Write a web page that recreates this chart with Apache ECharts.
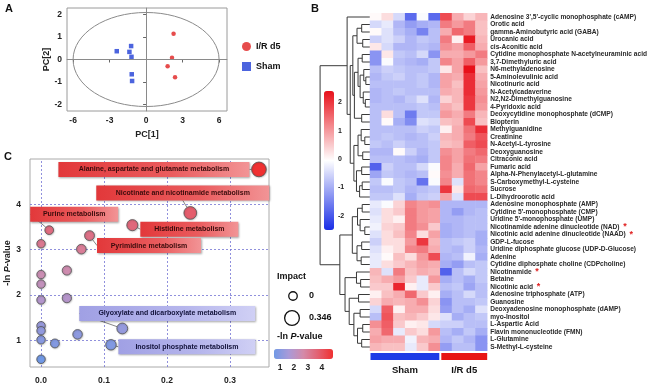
<!DOCTYPE html>
<html><head><meta charset="utf-8">
<script src="https://cdn.jsdelivr.net/npm/echarts@6/dist/echarts.min.js"></script>
<style>html,body{margin:0;padding:0;background:#fff}#c{width:650px;height:389px}</style>
</head><body><div id="c"></div>
<script>
// ---------------- Panel A : PCA scores ----------------
const irPC1 = [2.26, 2.13, 1.77, 2.38];
const irPC2 = [1.15, 0.08, -0.30, -0.79];
const shamPC1 = [-2.41, -1.23, -1.37, -1.20, -1.18, -1.15];
const shamPC2 = [0.37, 0.60, 0.34, 0.12, -0.66, -0.96];
const ellipseRadii = [6.0, 2.1];
const pcaXTicks = [-6, -3, 0, 3, 6];
const pcaYTicks = [-2, -1, 0, 1, 2];

// ---------------- Panel B : heatmap ----------------
const metabolites = [
 "Adenosine 3',5'-cyclic monophosphate (cAMP)","Orotic acid","gamma-Aminobutyric acid (GABA)","Urocanic acid","cis-Aconitic acid",
 "Cytidine monophosphate N-acetylneuraminic acid","3,7-Dimethyluric acid","N6-methyladenosine","5-Aminolevulinic acid","Nicotinuric acid",
 "N-Acetylcadaverine","N2,N2-Dimethylguanosine","4-Pyridoxic acid","Deoxycytidine monophosphate (dCMP)","Biopterin",
 "Methylguanidine","Creatinine","N-Acetyl-L-tyrosine","Deoxyguanosine","Citraconic acid",
 "Fumaric acid","Alpha-N-Phenylacetyl-L-glutamine","S-Carboxymethyl-L-cysteine","Sucrose","L-Dihydroorotic acid",
 "Adenosine monophosphate (AMP)","Cytidine 5'-monophosphate (CMP)","Uridine 5'-monophosphate (UMP)","Nicotinamide adenine dinucleotide (NAD)","Nicotinic acid adenine dinucleotide (NAAD)",
 "GDP-L-fucose","Uridine diphosphate glucose (UDP-D-Glucose)","Adenine","Cytidine diphosphate choline (CDPcholine)","Nicotinamide",
 "Betaine","Nicotinic acid","Adenosine triphosphate (ATP)","Guanosine","Deoxyadenosine monophosphate (dAMP)",
 "myo-Inositol","L-Aspartic Acid","Flavin mononucleotide (FMN)","L-Glutamine","S-Methyl-L-cysteine"];
const starred = ["Nicotinamide adenine dinucleotide (NAD)","Nicotinic acid adenine dinucleotide (NAAD)","Nicotinamide","Nicotinic acid"];
const groups = ['Sham', 'I/R d5'];
const groupSizes = [6, 4];
const zScores = [
 [0.0,0.3,-0.5,-1.8,-0.1,-1.8, 1.8,0.8,0.4,0.7],
 [-0.5,-0.3,-0.9,-1.2,-1.0,-0.9, 1.3,1.0,1.3,0.6],
 [0.0,-0.4,-0.8,-1.0,-1.5,-0.8, 0.8,1.5,1.3,0.6],
 [-0.6,-0.4,-0.6,-0.9,-0.7,-0.8, 1.3,0.1,2.3,0.7],
 [0.2,-0.5,-0.9,-0.9,-0.8,-0.9, 1.1,0.9,1.6,0.8],
 [-1.3,0.2,-0.7,-0.8,-0.5,-1.3, 0.8,0.8,1.0,1.3],
 [-1.3,-0.1,-0.8,-0.9,-1.0,-0.7, 1.2,0.9,1.6,1.0],
 [-0.8,-0.6,-0.7,-0.8,-0.8,-0.7, 0.2,0.9,2.4,0.6],
 [-0.9,-0.7,-0.6,-0.8,-0.7,-0.9, 0.9,0.8,2.1,0.8],
 [-0.8,-0.8,-0.8,-0.8,-0.7,-0.9, 0.9,0.6,2.1,0.9],
 [-0.9,-0.8,-0.7,-0.8,-0.8,-0.8, 0.8,0.7,2.1,1.0],
 [-0.9,-0.8,-0.9,-0.7,-0.4,-0.9, 0.4,0.7,2.0,1.1],
 [-0.8,-0.8,-0.8,-0.8,-0.7,-0.8, 0.8,0.6,2.0,1.0],
 [-0.8,0.3,-0.8,-1.6,-0.7,-0.7, 1.0,0.8,1.3,0.7],
 [-0.8,0.0,-1.0,-1.4,-0.4,-0.5, 0.6,0.7,1.8,0.6],
 [-0.8,-0.8,-0.8,-0.8,-0.6,-0.7, 0.1,0.8,1.4,2.1],
 [-0.8,-0.7,-0.8,-0.9,-0.8,-0.6, 0.7,0.8,1.3,1.7],
 [-0.7,-0.8,-0.6,-0.8,-0.8,-0.7, 0.6,0.7,1.6,1.8],
 [-0.9,-0.9,0.0,-0.6,-0.9,-0.7, 1.1,0.9,1.3,1.5],
 [-0.8,-0.8,-0.8,-0.9,-1.0,-0.7, 1.2,0.9,1.4,1.3],
 [-1.9,-0.6,-0.8,-0.8,-0.5,-0.1, 1.2,0.8,1.5,0.9],
 [-1.1,-0.7,-0.8,-0.9,-0.8,0.0, 1.1,0.8,1.4,1.2],
 [-0.7,-0.1,-0.7,-0.8,-1.7,-0.1, 1.2,-0.4,1.4,1.2],
 [-0.8,-0.8,-0.7,-0.9,-0.8,-0.7, 2.0,0.2,1.5,1.4],
 [-0.7,-0.7,-0.4,-1.0,-0.7,-0.6, 0.9,-0.4,1.8,1.8],
 [-0.3,-0.1,0.4,1.2,1.0,1.1, -0.9,-0.9,-0.9,-0.9],
 [-0.4,0.3,0.5,1.3,1.0,0.9, -0.9,-1.2,-0.9,-0.8],
 [-0.3,0.3,0.1,1.3,1.0,0.9, -0.9,-0.9,-0.8,-0.8],
 [-0.2,0.4,0.5,1.3,1.1,0.5, -1.0,-0.9,-0.8,-0.8],
 [-0.4,0.3,0.6,1.2,0.3,0.9, -1.0,-0.9,-0.8,-1.0],
 [-0.6,0.3,0.3,1.0,2.0,0.7, -0.8,-0.7,-0.6,-1.0],
 [-0.4,0.1,0.3,1.2,1.3,0.8, -0.8,-0.9,-0.6,-0.9],
 [-0.3,0.0,0.6,0.3,1.0,1.8, -0.9,-0.8,-0.2,-1.0],
 [-0.3,0.3,0.5,0.7,0.9,0.8, -1.0,-1.2,-0.8,-0.7],
 [0.7,-0.4,1.3,0.6,0.8,0.7, -1.9,-0.8,-0.5,-0.7],
 [0.6,0.8,1.0,0.5,-0.3,1.0, -1.0,-0.8,-1.0,-0.7],
 [0.5,0.5,2.2,0.1,-0.3,0.5, -0.8,-0.7,-1.1,-0.8],
 [0.1,0.6,0.8,1.5,0.5,0.1, -1.0,-0.8,-0.5,-0.8],
 [0.4,0.8,0.7,0.8,1.1,0.4, -1.3,-0.8,-0.8,-0.7],
 [-0.5,1.6,0.1,0.8,0.8,0.3, -1.2,-0.8,-1.0,-0.4],
 [-0.8,1.7,0.6,0.7,0.5,0.2, -0.4,-1.0,-0.8,-0.7],
 [1.1,1.6,0.5,0.1,0.2,-0.5, -0.6,-0.6,-0.8,-0.8],
 [0.8,1.5,-0.3,0.5,0.3,1.0, -0.8,-1.0,-0.7,-1.0],
 [0.9,0.8,0.8,-0.2,0.7,0.8, -0.9,-0.7,-0.9,-1.3],
 [0.7,0.6,0.6,-0.3,0.5,1.1, -1.2,-0.8,-0.8,-1.3]];
// hierarchical clustering of rows: [mergeHeight, left, right], leaves = row index
const rowTree = [9.6,
 [4.4, 0, [3.8,
   [3.3, [2.5, [1.6, 1, 2], [1.4, 3, 4]],
         [3.0, [2.3, [1.5, 5, 6], [1.9, [1.2, 7, [0.8, 8, 9]], [1.3, 10, [0.9, 11, 12]]]], [1.6, 13, 14]]],
   [3.1, [2.3, [1.7, 15, [1.0, 16, 17]], [1.4, 18, 19]],
         [2.6, [1.6, 20, 21], [2.0, [1.5, 22, 23], 24]]]]],
 [5.8, [3.4, [2.4, [1.5, 25, 26], [1.9, 27, [1.0, 28, 29]]], [2.5, [1.6, 30, 31], [1.7, 32, 33]]],
       [4.8, [2.6, 34, [1.8, 35, 36]], [4.0, [2.2, 37, 38], [3.1, [1.9, 39, 40], [2.4, [1.4, 41, 42], [1.6, 43, 44]]]]]]];
const heatTicks = [-2, -1, 0, 1, 2];

// ---------------- Panel C : pathway analysis ----------------
const impact = [0.346, 0.237, 0.145, 0.013, 0.077, 0.064, 0.0, 0.041, 0.0, 0.0, 0.041, 0.0, 0.129, 0.058, 0.0, 0.0, 0.0, 0.022, 0.111, 0.0];
const negLnP = [4.77, 3.81, 3.54, 3.43, 3.31, 3.01, 3.13, 2.54, 2.45, 2.24, 1.93, 1.89, 1.26, 1.13, 1.32, 1.21, 1.01, 0.93, 0.90, 0.58];
const pathwayNames = ['Alanine, aspartate and glutamate metabolism','Nicotinate and nicotinamide metabolism','Histidine metabolism',
 'Purine metabolism','Pyrimidine metabolism','','','','','','','','Glyoxylate and dicarboxylate metabolism','','','','','','Inositol phosphate metabolism',''];
const impactTicks = [0, 0.1, 0.2, 0.3];
const lnPTicks = [1, 2, 3, 4];
const impactLegend = [0, 0.346];
const colorTicksC = [1, 2, 3, 4];

// ================= build =================
const FONT = 'Liberation Sans, Arial, sans-serif';
const chart = echarts.init(document.getElementById('c'), null, {renderer: 'canvas'});

// dendrogram segments from tree
const segs = [];
function walk(n) {
  if (typeof n === 'number') return {h: 0, y: n};
  const a = walk(n[1]), b = walk(n[2]);
  const h = n[0];
  segs.push([h, a.y, h, b.y]);
  segs.push([h, a.y, a.h, a.y]);
  segs.push([h, b.y, b.h, b.y]);
  return {h: h, y: (a.y + b.y) / 2};
}
walk(rowTree);

const colNames = [];
groups.forEach((g, gi) => { for (let i = 0; i < groupSizes[gi]; i++) colNames.push(g + ' ' + (i + 1)); });
const heatData = [];
zScores.forEach((row, r) => row.forEach((v, c) => heatData.push([c, r, v])));
const groupRanges = [];
let acc = 0;
groupSizes.forEach((n, gi) => { groupRanges.push([acc, acc + n - 1, gi]); acc += n; });

const sizeFn = v => 8.5 + 18 * v;
const bubbleSize = d => sizeFn(d[0]);

const labelCfg = {
  0: {dx: -105, dy: 0, w: 191, red: true},
  1: {dx: -7.5, dy: -20, w: 173, red: true},
  2: {dx: 57, dy: 4, w: 98, red: true},
  3: {dx: 25, dy: -16, w: 88, red: true},
  4: {dx: 59.5, dy: 10, w: 104, red: true},
  12: {dx: 45, dy: -15, w: 176, red: false},
  18: {dx: 76, dy: 2, w: 137, red: false}
};
const redGrad = new echarts.graphic.LinearGradient(0, 0, 1, 0, [{offset: 0, color: '#e2383a'}, {offset: 0.6, color: '#ea5c5e'}, {offset: 1, color: '#f29496'}]);
const blueGrad = new echarts.graphic.LinearGradient(0, 0, 1, 0, [{offset: 0, color: '#a0a0e4'}, {offset: 0.6, color: '#b6b6ec'}, {offset: 1, color: '#d0d0f5'}]);
const bubbleData = impact.map((x, i) => {
  const item = {value: [x, negLnP[i]]};
  const cfg = labelCfg[i];
  if (cfg && pathwayNames[i]) {
    item.label = {
      show: true, position: 'inside', formatter: pathwayNames[i],
      width: cfg.w - 8, align: 'center', overflow: 'none',
      padding: [3, 4], lineHeight: 9,
      fontFamily: FONT, fontSize: 7, fontWeight: 'bold',
      color: cfg.red ? '#3a0c0c' : '#12123a',
      backgroundColor: cfg.red ? redGrad : blueGrad,
      shadowColor: 'rgba(0,0,0,0.35)', shadowBlur: 2, shadowOffsetX: 1, shadowOffsetY: 1
    };
    item.labelLine = {show: true, lineStyle: {color: '#777', width: 0.9}};
  }
  return item;
});

const axisLbl = {fontFamily: FONT, fontSize: 8.5, fontWeight: 'bold', color: '#222'};

const option = {
  animation: false,
  textStyle: {fontFamily: FONT},
  grid: [
    {left: 67, top: 8, width: 160, height: 103, show: true, borderColor: '#9a9a9a', borderWidth: 1, backgroundColor: 'transparent'},
    {left: 318, top: 13.25, width: 52, height: 337.5},
    {left: 370, top: 13.25, width: 119, height: 337.5},
    {left: 324, top: 91, width: 10, height: 139},
    {left: 30, top: 159, width: 239, height: 208, show: true, borderColor: '#aaaaaa', borderWidth: 1},
    {left: 274, top: 349, width: 59, height: 10}
  ],
  xAxis: [
    {gridIndex: 0, type: 'value', min: -6.5, max: 6.65, splitLine: {show: false},
     axisLine: {lineStyle: {color: '#9a9a9a'}}, axisTick: {show: true, length: 3, customValues: pcaXTicks, lineStyle: {color: '#666'}},
     axisLabel: Object.assign({customValues: pcaXTicks, margin: 5}, axisLbl),
     name: 'PC[1]', nameLocation: 'middle', nameGap: 19, nameTextStyle: {fontFamily: FONT, fontSize: 9, fontWeight: 'bold', color: '#222'}},
    {gridIndex: 1, type: 'value', min: 0, max: 10, inverse: true, show: false},
    {gridIndex: 2, type: 'category', data: colNames, show: false},
    {gridIndex: 3, type: 'value', show: false},
    {gridIndex: 4, type: 'value', min: -0.0175, max: 0.362, splitLine: {show: false},
     axisLine: {show: false}, axisTick: {show: false},
     axisLabel: Object.assign({customValues: impactTicks, margin: 9, formatter: v => v.toFixed(1)}, axisLbl)},
    {gridIndex: 5, type: 'value', min: 0.57, max: 4.8, splitLine: {show: false}, axisLine: {show: false}, axisTick: {show: false},
     axisLabel: Object.assign({customValues: colorTicksC, margin: 4}, axisLbl)}
  ],
  yAxis: [
    {gridIndex: 0, type: 'value', min: -2.3, max: 2.3, splitLine: {show: false},
     axisLine: {lineStyle: {color: '#9a9a9a'}}, axisTick: {show: true, length: 3, customValues: pcaYTicks, lineStyle: {color: '#666'}},
     axisLabel: Object.assign({customValues: pcaYTicks, margin: 5}, axisLbl),
     name: 'PC[2]', nameLocation: 'middle', nameGap: 15, nameTextStyle: {fontFamily: FONT, fontSize: 9, fontWeight: 'bold', color: '#222'}},
    {gridIndex: 1, type: 'value', min: -0.5, max: metabolites.length - 0.5, inverse: true, show: false},
    {gridIndex: 2, type: 'category', data: metabolites, inverse: true, position: 'right',
     axisLine: {show: false}, axisTick: {show: false},
     axisLabel: {interval: 0, margin: 3, fontFamily: FONT, fontSize: 6.6, fontWeight: 'bold', color: '#2a2a2a',
       formatter: v => starred.indexOf(v) >= 0 ? v + '  {s|*}' : v,
       rich: {s: {color: '#e02020', fontSize: 9, fontWeight: 'bold', fontFamily: FONT, verticalAlign: 'middle'}}}},
    {gridIndex: 3, type: 'value', min: -2.5, max: 2.4, position: 'right', splitLine: {show: false},
     axisLine: {show: false}, axisTick: {show: false},
     axisLabel: {customValues: heatTicks, margin: 4, fontFamily: FONT, fontSize: 7, fontWeight: 'bold', color: '#222'}},
    {gridIndex: 4, type: 'value', min: 0.41, max: 5.0, splitLine: {show: false},
     axisLine: {show: false}, axisTick: {show: false},
     axisLabel: Object.assign({customValues: lnPTicks, margin: 9}, axisLbl),
     name: '-ln {i|P}-value', nameLocation: 'middle', nameGap: 18,
     nameTextStyle: {fontFamily: FONT, fontSize: 9, fontWeight: 'bold', color: '#222',
       rich: {i: {fontFamily: FONT, fontSize: 9, fontWeight: 'bold', fontStyle: 'italic', color: '#222'}}}},
    {gridIndex: 5, type: 'value', show: false}
  ],
  legend: {
    data: [{name: 'I/R d5', icon: 'circle'}, {name: 'Sham', icon: 'rect'}],
    orient: 'vertical', left: 242, top: 42, padding: 0, itemWidth: 9, itemHeight: 9, itemGap: 11,
    textStyle: {fontFamily: FONT, fontSize: 9, fontWeight: 'bold', color: '#111'}
  },
  visualMap: [
    {type: 'continuous', seriesIndex: 4, min: -2.5, max: 2.4, calculable: false, hoverLink: false,
     orient: 'vertical', left: 324, top: 91, itemWidth: 10, itemHeight: 139, padding: 0,
     inRange: {color: ['#1a2ee6', '#ffffff', '#e8101a']}},
    {type: 'continuous', seriesIndex: 6, dimension: 1, min: 0.57, max: 4.8, calculable: false, hoverLink: false,
     orient: 'horizontal', left: 274, top: 349, itemWidth: 10, itemHeight: 59, padding: 0,
     inRange: {color: ['#7099e6', '#a99ad8', '#d48aa8', '#e36070', '#f03030']}}
  ],
  graphic: [
    {type: 'text', left: 5, top: 3, style: {text: 'A', fontFamily: FONT, fontSize: 11, fontWeight: 'bold', fill: '#111'}},
    {type: 'text', left: 311, top: 3, style: {text: 'B', fontFamily: FONT, fontSize: 11, fontWeight: 'bold', fill: '#111'}},
    {type: 'text', left: 4, top: 151, style: {text: 'C', fontFamily: FONT, fontSize: 11, fontWeight: 'bold', fill: '#111'}},
    {type: 'text', x: 277, y: 277, style: {text: 'Impact', fontFamily: FONT, fontSize: 9, fontWeight: 'bold', fill: '#111', verticalAlign: 'middle'}},
    {type: 'circle', shape: {cx: 293, cy: 296, r: sizeFn(impactLegend[0]) / 2}, style: {fill: '#fff', stroke: '#111', lineWidth: 1.3}},
    {type: 'text', x: 309, y: 296, style: {text: String(impactLegend[0]), fontFamily: FONT, fontSize: 9, fontWeight: 'bold', fill: '#111', verticalAlign: 'middle'}},
    {type: 'circle', shape: {cx: 292, cy: 318, r: sizeFn(impactLegend[1]) / 2}, style: {fill: '#fff', stroke: '#111', lineWidth: 1.3}},
    {type: 'text', x: 309, y: 318, style: {text: String(impactLegend[1]), fontFamily: FONT, fontSize: 9, fontWeight: 'bold', fill: '#111', verticalAlign: 'middle'}},
    {type: 'text', x: 277, y: 337, style: {text: '-ln {i|P}-value', fontFamily: FONT, fontSize: 9, fontWeight: 'bold', fill: '#111', verticalAlign: 'middle',
      rich: {i: {fontFamily: FONT, fontSize: 9, fontWeight: 'bold', fontStyle: 'italic', fill: '#111'}}}}
  ],
  series: [
    {type: 'custom', xAxisIndex: 0, yAxisIndex: 0, silent: true, z: 1,
     data: [[0, 0, ellipseRadii[0], ellipseRadii[1]]],
     renderItem: (p, api) => {
       const c = api.coord([api.value(0), api.value(1)]);
       const s = api.size([api.value(2), api.value(3)]);
       return {type: 'ellipse', shape: {cx: c[0], cy: c[1], rx: s[0], ry: s[1]}, style: {fill: 'none', stroke: '#8a8a8a', lineWidth: 1}};
     }},
    {type: 'scatter', name: 'I/R d5', xAxisIndex: 0, yAxisIndex: 0, symbol: 'circle', symbolSize: 4.5,
     itemStyle: {color: '#e01f1f'}, data: irPC1.map((x, i) => [x, irPC2[i]]),
     markLine: {silent: true, symbol: 'none', label: {show: false}, lineStyle: {color: '#8a8a8a', width: 1, type: 'solid'},
       data: [{xAxis: 0}, {yAxis: 0}]}},
    {type: 'scatter', name: 'Sham', xAxisIndex: 0, yAxisIndex: 0, symbol: 'rect', symbolSize: 4.5,
     itemStyle: {color: '#1f3dd6'}, data: shamPC1.map((x, i) => [x, shamPC2[i]])},
    {type: 'custom', xAxisIndex: 1, yAxisIndex: 1, silent: true, data: segs,
     renderItem: (p, api) => {
       const a = api.coord([api.value(0), api.value(1)]);
       const b = api.coord([api.value(2), api.value(3)]);
       return {type: 'line', shape: {x1: a[0], y1: a[1], x2: b[0], y2: b[1]}, style: {stroke: '#3a3a3a', lineWidth: 1}};
     }},
    {type: 'heatmap', xAxisIndex: 2, yAxisIndex: 2, data: heatData, progressive: 0, emphasis: {disabled: true}},
    {type: 'custom', xAxisIndex: 2, yAxisIndex: 2, silent: true, clip: false, data: groupRanges,
     renderItem: (p, api) => {
       const s = api.size([1, 1]);
       const st = api.value(0), en = api.value(1), gi = api.value(2);
       const c0 = api.coord([st, metabolites.length - 1]);
       const c1 = api.coord([en, metabolites.length - 1]);
       const x0 = c0[0] - s[0] / 2 + (st > 0 ? 1 : 0.5);
       const x1 = c1[0] + s[0] / 2 - (en < colNames.length - 1 ? 1 : 0);
       const y0 = c0[1] + s[1] / 2 + 2.3;
       return {type: 'group', children: [
         {type: 'rect', shape: {x: x0, y: y0, width: x1 - x0, height: 7}, style: {fill: gi === 0 ? '#1e3ce6' : '#e81515'}},
         {type: 'text', style: {x: (x0 + x1) / 2, y: y0 + 17, text: groups[gi], align: 'center', verticalAlign: 'middle',
           fontFamily: FONT, fontSize: 9.5, fontWeight: 'bold', fill: '#111'}}
       ]};
     }},
    {type: 'scatter', xAxisIndex: 4, yAxisIndex: 4, symbolSize: bubbleSize, data: bubbleData,
     itemStyle: {borderColor: '#555', borderWidth: 0.8, opacity: 1, shadowColor: 'rgba(0,0,0,0.25)', shadowBlur: 2, shadowOffsetX: 0.5, shadowOffsetY: 0.5},
     emphasis: {disabled: true},
     labelLayout: params => { const c = labelCfg[params.dataIndex]; return c ? {dx: c.dx, dy: c.dy} : {}; },
     markLine: {silent: true, symbol: 'none', label: {show: false}, z: 0,
       lineStyle: {color: '#7474d4', width: 0.8, type: [2, 2]},
       data: impactTicks.map(v => ({xAxis: v})).concat(lnPTicks.map(v => ({yAxis: v})))}}
  ]
};
chart.setOption(option);
</script>
</body></html>
